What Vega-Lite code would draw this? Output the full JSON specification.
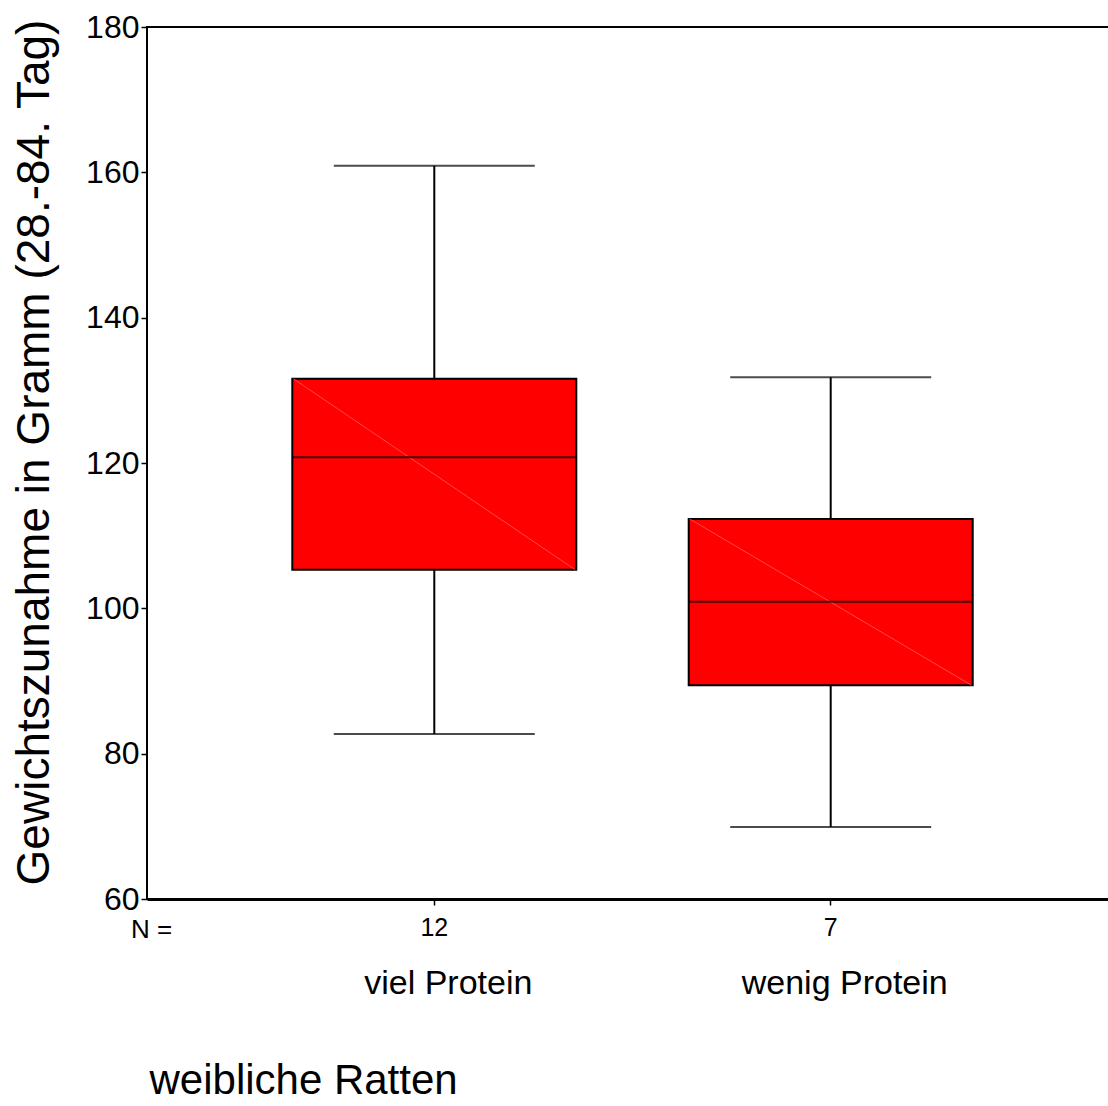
{
  "$schema": "https://vega.github.io/schema/vega-lite/v6.json",
  "autosize": {"type": "none"},
  "padding": {"left": 147, "top": 27, "right": 0, "bottom": 207},
  "width": 962,
  "height": 872,
  "background": "white",
  "config": {
    "font": "Liberation Sans",
    "view": {"stroke": "black", "strokeWidth": 2},
    "axis": {"labelColor": "black", "titleColor": "black", "tickColor": "black", "domainColor": "black", "grid": false, "titleFontWeight": "normal"}
  },
  "data": {
    "values": [
      {"group": "viel Protein", "n": 12, "lower": 82.7, "q1": 105.3, "median": 120.8, "q3": 131.6, "upper": 160.9},
      {"group": "wenig Protein", "n": 7, "lower": 69.9, "q1": 89.4, "median": 100.9, "q3": 112.3, "upper": 131.8}
    ]
  },
  "resolve": {"scale": {"x": "independent"}},
  "layer": [
    {
      "encoding": {
        "x": {
          "field": "group", "type": "nominal", "sort": null,
          "scale": {"type": "band", "paddingInner": 0, "paddingOuter": 0.2134, "align": 0.5266},
          "axis": {
            "orient": "bottom",
            "labelExpr": "datum.value == 'viel Protein' ? '12' : '7'",
            "labelAngle": 0,
            "labelFontSize": 25,
            "labelPadding": 10,
            "tickSize": 6,
            "tickWidth": 1.5,
            "domainWidth": 3,
            "title": "N =",
            "titleFontSize": 26,
            "titleAngle": 0,
            "titleX": 4,
            "titleY": 30,
            "titleAlign": "center",
            "titleBaseline": "middle",
            "titleAnchor": null
          }
        }
      },
      "layer": [
        {
          "mark": {"type": "rule", "color": "black", "strokeWidth": 2},
          "encoding": {
            "y": {
              "field": "lower", "type": "quantitative",
              "scale": {"domain": [60, 180], "nice": false, "zero": false},
              "axis": {
                "values": [60, 80, 100, 120, 140, 160, 180],
                "labelFontSize": 32,
                "labelPadding": 2,
                "tickSize": 6,
                "tickWidth": 1.5,
                "domain": false,
                "title": "Gewichtszunahme in Gramm (28.-84. Tag)",
                "titleFontSize": 46,
                "titleAngle": 270,
                "titleX": -99,
                "titleY": 425,
                "titleAlign": "center",
                "titleBaseline": "alphabetic"
              }
            },
            "y2": {"field": "upper"}
          }
        },
        {
          "mark": {"type": "bar", "fill": "#ff0000", "stroke": "black", "strokeWidth": 2, "size": 284},
          "encoding": {
            "y": {"field": "q1", "type": "quantitative"},
            "y2": {"field": "q3"}
          }
        },
        {
          "mark": {"type": "rule", "color": "#ff5a5a", "strokeWidth": 0.8, "xOffset": -141, "x2Offset": 141},
          "encoding": {
            "x2": {"field": "group"},
            "y": {"field": "q3", "type": "quantitative"},
            "y2": {"field": "q1"}
          }
        },
        {
          "mark": {"type": "tick", "color": "black", "thickness": 2, "size": 284},
          "encoding": {"y": {"field": "median", "type": "quantitative"}}
        },
        {
          "mark": {"type": "tick", "color": "black", "thickness": 2, "size": 201},
          "encoding": {"y": {"field": "upper", "type": "quantitative"}}
        },
        {
          "mark": {"type": "tick", "color": "black", "thickness": 2, "size": 201},
          "encoding": {"y": {"field": "lower", "type": "quantitative"}}
        }
      ]
    },
    {
      "mark": {"type": "tick", "opacity": 0},
      "encoding": {
        "x": {
          "field": "group", "type": "nominal", "sort": null,
          "scale": {"type": "band", "paddingInner": 0, "paddingOuter": 0.2134, "align": 0.5266},
          "axis": {
            "orient": "bottom",
            "labelAngle": 0,
            "labelFontSize": 34,
            "labelPadding": 67,
            "labelOffset": 14,
            "labelLimit": 0,
            "ticks": false,
            "tickSize": 0,
            "domain": false,
            "title": "weibliche Ratten",
            "titleFontSize": 42,
            "titleAngle": 0,
            "titleX": 2,
            "titleY": 194,
            "titleAlign": "left",
            "titleBaseline": "alphabetic",
            "titleAnchor": null
          }
        },
        "y": {"field": "median", "type": "quantitative"}
      }
    }
  ]
}
